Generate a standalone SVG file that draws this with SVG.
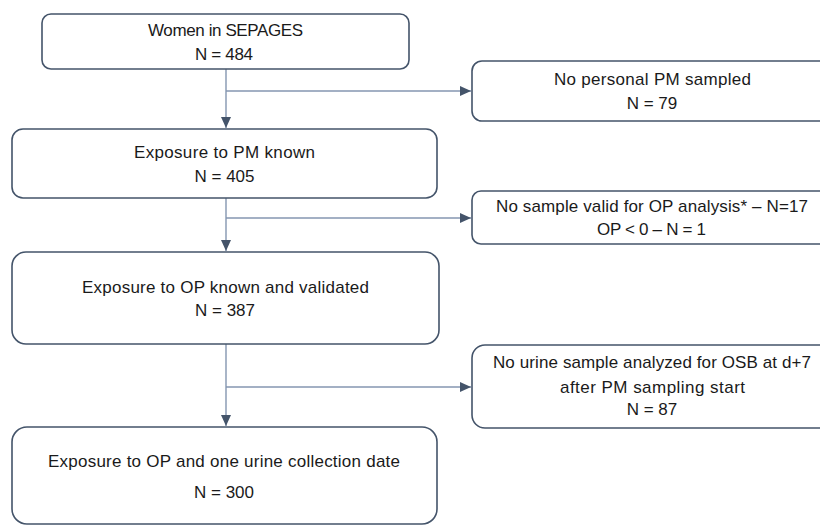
<svg xmlns="http://www.w3.org/2000/svg" width="820" height="528" viewBox="0 0 820 528">
<defs>
<marker id="arr" markerUnits="userSpaceOnUse" markerWidth="12" markerHeight="12" viewBox="0 0 12 12" refX="11" refY="6" orient="auto">
<path d="M0,1 L11,6 L0,11 Z" fill="#44546A"/>
</marker>
</defs>
<style>
.box{fill:#fff;stroke:#44546A;stroke-width:1.6}
.t{font-family:"Liberation Sans",Arial,sans-serif;font-size:17px;fill:#1a1a1a;text-anchor:middle}
.c{stroke:#8496B0;stroke-width:1.4;fill:none}
</style>
<rect width="820" height="528" fill="#fff"/>
<g id="connectors">
<path class="c" d="M226,69 V128" marker-end="url(#arr)"/>
<path class="c" d="M226,91 H471" marker-end="url(#arr)"/>
<path class="c" d="M226,198 V251" marker-end="url(#arr)"/>
<path class="c" d="M226,218 H471" marker-end="url(#arr)"/>
<path class="c" d="M226,344 V426" marker-end="url(#arr)"/>
<path class="c" d="M226,387 H471" marker-end="url(#arr)"/>
</g>
<g id="n1">
<rect class="box" x="42" y="14" width="367" height="55" rx="9"/>
<text class="t" x="225.5" y="36" textLength="155">Women in SEPAGES</text>
<text class="t" x="224" y="60" textLength="58">N = 484</text>
</g>
<g id="n2">
<rect class="box" x="472" y="61" width="362" height="60" rx="10"/>
<text class="t" x="652.5" y="85" textLength="197">No personal PM sampled</text>
<text class="t" x="652" y="109">N = 79</text>
</g>
<g id="n3">
<rect class="box" x="12" y="129" width="425" height="69" rx="11"/>
<text class="t" x="224.5" y="158" textLength="181">Exposure to PM known</text>
<text class="t" x="224.5" y="182">N = 405</text>
</g>
<g id="n4">
<rect class="box" x="472" y="191" width="362" height="53" rx="9"/>
<text class="t" x="652" y="212" textLength="312">No sample valid for OP analysis* – N=17</text>
<text class="t" x="651.5" y="235" textLength="109">OP &lt; 0 – N = 1</text>
</g>
<g id="n5">
<rect class="box" x="12" y="252" width="427" height="92" rx="14"/>
<text class="t" x="225.5" y="293" textLength="287">Exposure to OP known and validated</text>
<text class="t" x="225" y="316">N = 387</text>
</g>
<g id="n6">
<rect class="box" x="472" y="345" width="362" height="83" rx="13"/>
<text class="t" x="652" y="368" textLength="318">No urine sample analyzed for OSB at d+7</text>
<text class="t" x="652.5" y="393" textLength="185">after PM sampling start</text>
<text class="t" x="652" y="415">N = 87</text>
</g>
<g id="n7">
<rect class="box" x="12" y="427" width="425" height="97" rx="15"/>
<text class="t" x="224" y="467" textLength="352">Exposure to OP and one urine collection date</text>
<text class="t" x="224" y="498">N = 300</text>
</g>
</svg>
